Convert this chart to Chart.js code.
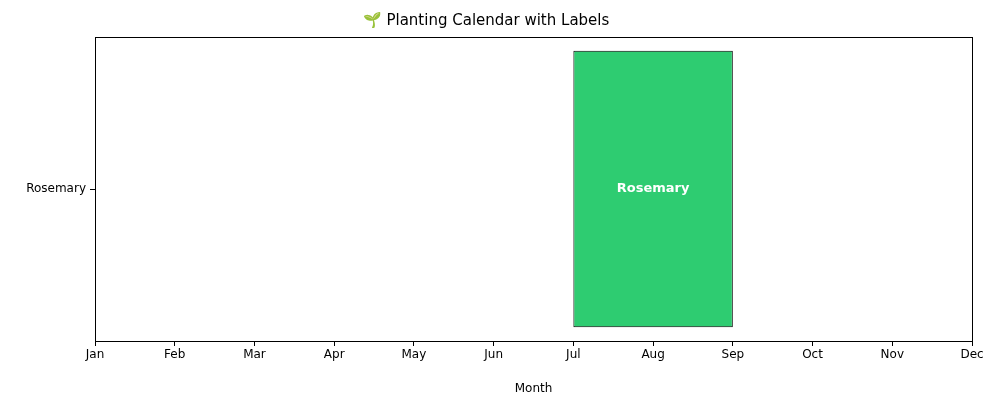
<!DOCTYPE html>
<html><head><meta charset="utf-8">
<script src="https://cdn.jsdelivr.net/npm/chart.js@4"></script>
<style>html,body{margin:0;padding:0;background:#fff}#w{width:1000px;height:400px}</style>
</head><body><div id="w"><canvas id="c"></canvas></div>
<script>
const plants = ['Rosemary'];
const startMonth = [6];
const endMonth = [8];
const monthLabels = ['Jan','Feb','Mar','Apr','May','Jun','Jul','Aug','Sep','Oct','Nov','Dec'];

const labelPlugin = {
  id: 'lbl',
  afterDatasetsDraw(chart) {
    const ctx = chart.ctx;
    chart.getDatasetMeta(0).data.forEach((b, i) => {
      ctx.save();
      ctx.fillStyle = '#fff';
      ctx.font = 'bold 13px "DejaVu Sans"';
      ctx.textAlign = 'center'; ctx.textBaseline = 'middle';
      ctx.fillText(plants[i], (b.x + b.base) / 2, b.y);
      ctx.restore();
    });
  }
};
const frame = {
  id: 'frame',
  afterDraw(chart) {
    const a = chart.chartArea, ctx = chart.ctx;
    ctx.save(); ctx.strokeStyle = '#000'; ctx.lineWidth = 1;
    ctx.strokeRect(a.left + 0.5, a.top + 0.5, a.right - a.left, a.bottom - a.top);
    ctx.restore();
  }
};

new Chart(document.getElementById('c'), {
  type: 'bar',
  data: {
    labels: plants,
    datasets: [{
      data: plants.map((p, i) => [startMonth[i], endMonth[i]]),
      backgroundColor: '#2ecc71', borderColor: '#000', borderWidth: 1, borderSkipped: false,
      barPercentage: 0.909, categoryPercentage: 1
    }]
  },
  options: {
    indexAxis: 'y', responsive: true, maintainAspectRatio: false, animation: false,
    layout: { padding: { left: 0, right: 28, top: 0, bottom: 0 } },
    plugins: {
      legend: { display: false }, tooltip: { enabled: false },
      title: { display: true, text: '🌱 Planting Calendar with Labels', color: '#000',
        font: { family: 'DejaVu Sans', size: 15, weight: 'normal' }, padding: { top: 12, bottom: 7 } }
    },
    scales: {
      x: {
        type: 'linear', min: 0, max: 11,
        afterFit: s => { s.height = 59; },
        ticks: { stepSize: 1, color: '#000', font: { family: 'DejaVu Sans', size: 12 }, padding: 2,
          callback: v => monthLabels[v] },
        grid: { display: true, drawOnChartArea: false, drawTicks: true, tickLength: 5, tickColor: '#000' },
        border: { color: '#000' },
        title: { display: true, text: 'Month', color: '#000', font: { family: 'DejaVu Sans', size: 12 }, padding: { top: 2 } }
      },
      y: {
        afterFit: s => { s.width = 95; },
        ticks: { color: '#000', font: { family: 'DejaVu Sans', size: 12 }, padding: 4 },
        grid: { display: true, drawOnChartArea: false, tickLength: 5, tickColor: '#000', offset: false },
        border: { color: '#000' }
      }
    }
  },
  plugins: [labelPlugin, frame]
});
</script></body></html>
